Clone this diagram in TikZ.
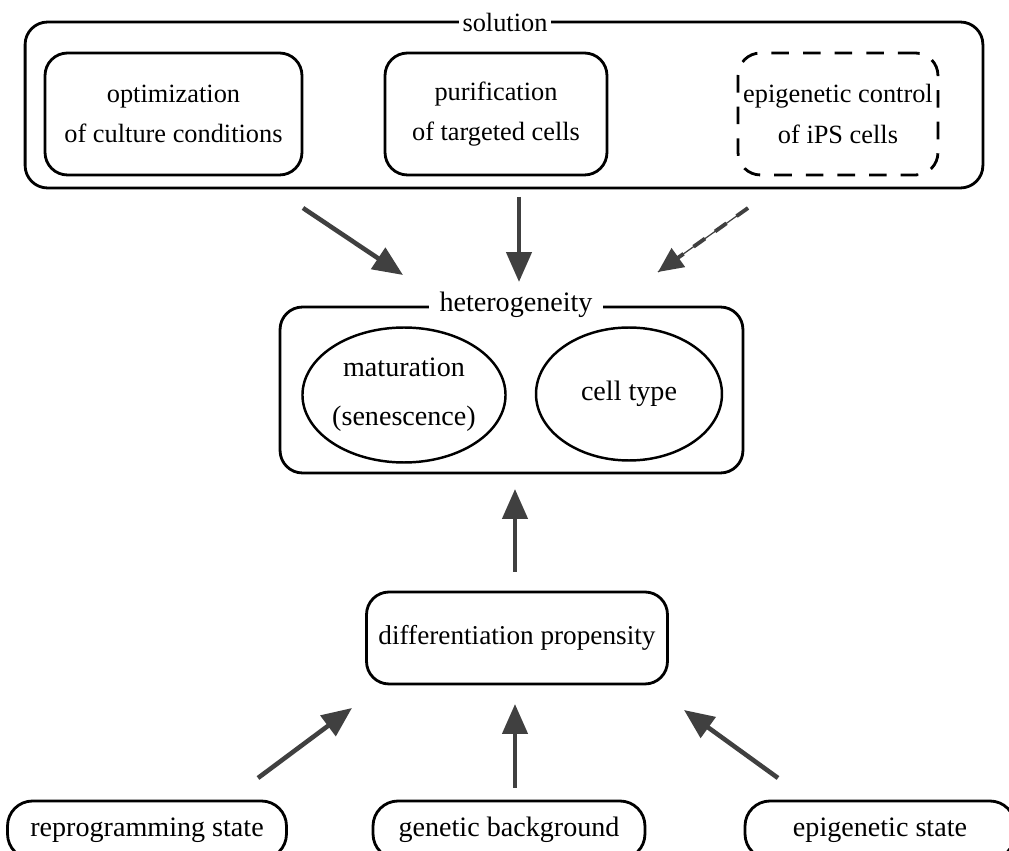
\documentclass[tikz,border=0pt]{standalone}
\usepackage{fontspec}
\setmainfont{Liberation Serif}
\usetikzlibrary{positioning, graphs, arrows.meta, shapes.geometric}
\tikzset{frame/.style={
    rectangle,
    draw,
    line width=1.6pt,
    rounded corners=4.5mm,
    inner sep=2pt
}}
\tikzset{item/.style={
    frame,
    align=center,
    minimum height=2.44cm,
    font=\fontsize{15}{23}\selectfont
}}
\tikzset{blob/.style={
    ellipse,
    draw,
    line width=1.4pt,
    inner sep=0pt,
    align=center,
    font=\fontsize{16}{28}\selectfont
}}
\tikzset{pill/.style={
    frame,
    rounded corners=5mm,
    minimum height=1.16cm,
    font=\fontsize{16}{18}\selectfont
}}
\tikzset{caption/.style={
    fill=white,
    inner sep=2pt,
    font=\fontsize{15}{18}\selectfont
}}

\begin{document}
\begin{tikzpicture}[
    x=0.02cm, y=-0.02cm,
    >={Triangle[length=6mm, width=5mm]}, black,
    every new ->/.style={line width=2.6pt, black!75}
]
    \useasboundingbox (0,0) rectangle (1009,851);
    % solution
    \node (sol) [frame, minimum width=19.16cm, minimum height=3.32cm] at (504,105) {};
    \node (solcap) [caption] at (505,22) {solution};
    \node (cult) [item, minimum width=5.14cm] at (173.5,114) {optimization\\of culture conditions};
    \node (puri) [item, minimum width=4.44cm] at (496,114) {purification\\of targeted cells};
    \node (epic) [item, dash pattern=on 10pt off 8pt, minimum width=4.0cm] at (838,114) {epigenetic control\\of iPS cells};
    % heterogeneity
    \node (het) [frame, minimum width=9.26cm, minimum height=3.32cm] at (511.5,390) {};
    \node (hetcap) [caption, inner xsep=6pt, font=\fontsize{16}{18}\selectfont] at (516,305) {heterogeneity};
    \node (matu) [blob, minimum width=3.76cm, minimum height=2.7cm] at (404,395) {maturation\\(senescence)};
    \node (ctype) [blob, minimum width=3.72cm, minimum height=2.66cm] at (629,394) {cell type};
    % propensity and its causes
    \node (prop) [frame, minimum width=6.02cm, minimum height=1.84cm,
        font=\fontsize{15.5}{18}\selectfont] at (517,638) {differentiation propensity};
    \node (repr) [pill, minimum width=5.58cm] at (147,830) {reprogramming state};
    \node (gene) [pill, minimum width=5.44cm] at (509,830) {genetic background};
    \node (epis) [pill, minimum width=5.4cm] at (880,830) {epigenetic state};
    % arrow ends
    \coordinate (a1) at (303,208);  \coordinate (b1) at (403,275);
    \coordinate (a2) at (519,197);  \coordinate (b2) at (519,282);
    \coordinate (a3) at (748,208);  \coordinate (b3) at (658,272);
    \coordinate (a4) at (515,572);  \coordinate (b4) at (515,489);
    \coordinate (a5) at (258,778);  \coordinate (b5) at (352,708);
    \coordinate (a6) at (515,788);  \coordinate (b6) at (515,704);
    \coordinate (a7) at (778,778);  \coordinate (b7) at (684,710);
    \graph [use existing nodes] {
        a1 -> b1; a2 -> b2;
        a3 -> [line width=2.2pt, dash pattern=on 8pt off 7pt,
               preaction={draw, solid, line width=0.7pt, -},
               >={Triangle[length=5mm, width=4.5mm]}] b3;
        a4 -> b4;
        a5 -> b5; a6 -> b6; a7 -> b7;
    };
\end{tikzpicture}
\end{document}
